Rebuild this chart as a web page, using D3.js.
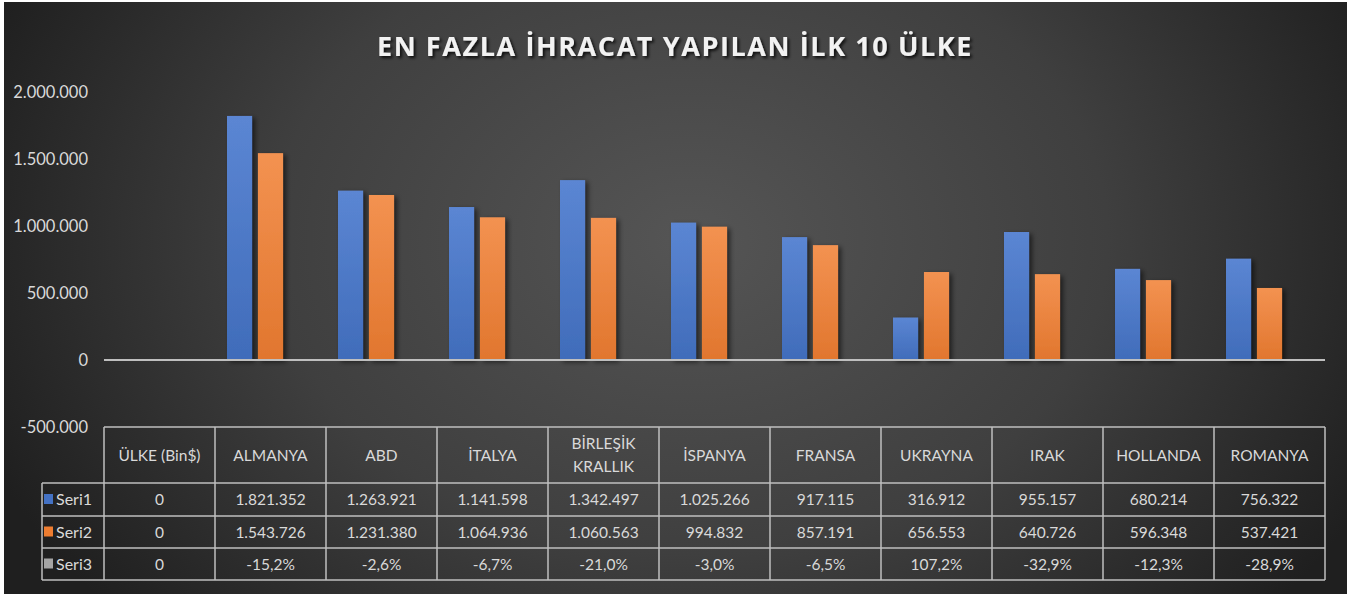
<!DOCTYPE html>
<html><head><meta charset="utf-8">
<script src="https://cdn.jsdelivr.net/npm/d3@7"></script>
<style>
html,body{margin:0;padding:0;background:#fff;}
svg{display:block;}
</style></head>
<body><svg id="chart" width="1359" height="594"></svg>
<script>
const title = "EN FAZLA İHRACAT YAPILAN İLK 10 ÜLKE";
const categories = ["ÜLKE (Bin$)","ALMANYA","ABD","İTALYA","BİRLEŞİK KRALLIK","İSPANYA","FRANSA","UKRAYNA","IRAK","HOLLANDA","ROMANYA"];
const seriesNames = ["Seri1","Seri2","Seri3"];
const seri1 = [0,1821352,1263921,1141598,1342497,1025266,917115,316912,955157,680214,756322];
const seri2 = [0,1543726,1231380,1064936,1060563,994832,857191,656553,640726,596348,537421];
const seri3 = [0,-0.152,-0.026,-0.067,-0.210,-0.030,-0.065,1.072,-0.329,-0.123,-0.289];
const yTicks = [-500000,0,500000,1000000,1500000,2000000];
const colors = ["#4472C4","#ED7D31","#A5A5A5"];

const W=1359,H=594;
const svg=d3.select("#chart");
const defs=svg.append("defs");
const rg=defs.append("radialGradient").attr("id","bg").attr("gradientUnits","userSpaceOnUse")
  .attr("cx",690).attr("cy",240).attr("r",760).attr("gradientTransform","translate(690,240) scale(1,0.75) translate(-690,-240)");
rg.append("stop").attr("offset","0%").attr("stop-color","#555555");
rg.append("stop").attr("offset","55%").attr("stop-color","#3f3f3f");
rg.append("stop").attr("offset","100%").attr("stop-color","#1f1f1f");
const barGrads=["#5b86d3","#f39251","#bcbcbc"];
colors.forEach((c,i)=>{
  const g=defs.append("linearGradient").attr("id","bar"+i).attr("x1",0).attr("y1",0).attr("x2",0).attr("y2",1);
  g.append("stop").attr("offset","0%").attr("stop-color",barGrads[i]);
  g.append("stop").attr("offset","100%").attr("stop-color",d3.color(c).darker(0.15));
});
const f=defs.append("filter").attr("id","sh").attr("x","-20%").attr("y","-20%").attr("width","160%").attr("height","140%");
f.append("feDropShadow").attr("dx",3).attr("dy",2).attr("stdDeviation",2.5).attr("flood-color","#000").attr("flood-opacity",0.55);
const tf=defs.append("filter").attr("id","tsh").attr("x","-10%").attr("y","-30%").attr("width","120%").attr("height","160%");
tf.append("feDropShadow").attr("dx",2).attr("dy",2).attr("stdDeviation",1.5).attr("flood-color","#000").attr("flood-opacity",0.8);

svg.append("rect").attr("x",4).attr("y",2).attr("width",1343).attr("height",H-2).attr("fill","url(#bg)");

const font="Lato, 'Open Sans', sans-serif";
const txt="#d9d9d9";

svg.append("text").attr("x",675).attr("y",56).attr("text-anchor","middle")
  .attr("font-family","'Open Sans', sans-serif").attr("font-weight",700).attr("font-size",27)
  .attr("letter-spacing",1.6).attr("fill","#f2f2f2").attr("filter","url(#tsh)").text(title);

const y=d3.scaleLinear().domain([-500000,2000000]).range([427,92]);
const x=d3.scaleBand().domain(categories).range([104,1325]).padding(0);
const x1=d3.scaleBand().domain(seriesNames).range([12,99]).paddingInner(0.19);

const tr=d3.formatLocale({decimal:",",thousands:".",grouping:[3],currency:["","$"],minus:"-"});
const fmtN=tr.format(",d");
const fmtP=tr.format(".1%");

// y axis labels
const ax=svg.append("g").attr("transform","translate(88,0)")
  .call(d3.axisLeft(y).tickValues(yTicks).tickSize(0).tickPadding(0).tickFormat(fmtN));
ax.select(".domain").remove();
ax.selectAll("text").attr("font-family",font).attr("font-size",16.5).attr("fill",txt);

// bars
const data=[seri1,seri2,seri3];
const gBars=svg.append("g").attr("filter","url(#sh)");
data.forEach((arr,si)=>{
  gBars.selectAll(".b"+si).data(arr.map((v,i)=>({c:categories[i],v}))).enter().append("rect")
    .attr("x",d=>x(d.c)+x1(seriesNames[si]))
    .attr("width",x1.bandwidth())
    .attr("y",d=>y(Math.max(0,d.v)))
    .attr("height",d=>Math.abs(y(d.v)-y(0)))
    .attr("fill","url(#bar"+si+")");
});

// zero line
svg.append("line").attr("x1",104).attr("x2",1325).attr("y1",y(0)).attr("y2",y(0))
  .attr("stroke","#bfbfbf").attr("stroke-width",2);

// data table
const lc="#bfbfbf", lw=1.5;
const rows=[427,483,516,548,580];
const T=svg.append("g");
T.append("line").attr("x1",104).attr("x2",1325).attr("y1",rows[0]).attr("y2",rows[0]).attr("stroke",lc).attr("stroke-width",lw);
for(let r=1;r<rows.length;r++){
  T.append("line").attr("x1",42).attr("x2",1325).attr("y1",rows[r]).attr("y2",rows[r]).attr("stroke",lc).attr("stroke-width",lw);
}
T.append("line").attr("x1",42).attr("x2",42).attr("y1",rows[1]).attr("y2",rows[4]).attr("stroke",lc).attr("stroke-width",lw);
categories.forEach(c=>{
  T.append("line").attr("x1",x(c)).attr("x2",x(c)).attr("y1",rows[0]).attr("y2",rows[4]).attr("stroke",lc).attr("stroke-width",lw);
});
T.append("line").attr("x1",1325).attr("x2",1325).attr("y1",rows[0]).attr("y2",rows[4]).attr("stroke",lc).attr("stroke-width",lw);

categories.forEach(c=>{
  const cx=x(c)+x.bandwidth()/2;
  const t=T.append("text").attr("text-anchor","middle").attr("font-family",font).attr("font-size",15.5).attr("fill",txt);
  const words=c.split(" ");
  if(c.length>12 && words.length>1){
    t.append("tspan").attr("x",cx).attr("y",449).text(words[0]);
    t.append("tspan").attr("x",cx).attr("y",472).text(words.slice(1).join(" "));
  } else {
    t.attr("x",cx).attr("y",461).text(c);
  }
});
data.forEach((arr,si)=>{
  const cy=(rows[si+1]+rows[si+2])/2+5.5;
  T.append("rect").attr("x",44).attr("y",cy-11).attr("width",9).attr("height",10).attr("fill",colors[si]);
  T.append("text").attr("x",56).attr("y",cy).attr("font-family",font).attr("font-size",16).attr("fill",txt).text(seriesNames[si]);
  arr.forEach((v,i)=>{
    T.append("text").attr("x",x(categories[i])+x.bandwidth()/2).attr("y",cy).attr("text-anchor","middle")
      .attr("font-family",font).attr("font-size",15.5).attr("fill",txt)
      .text(v===0?"0":(si===2?fmtP(v):fmtN(v)));
  });
});
</script></body></html>
